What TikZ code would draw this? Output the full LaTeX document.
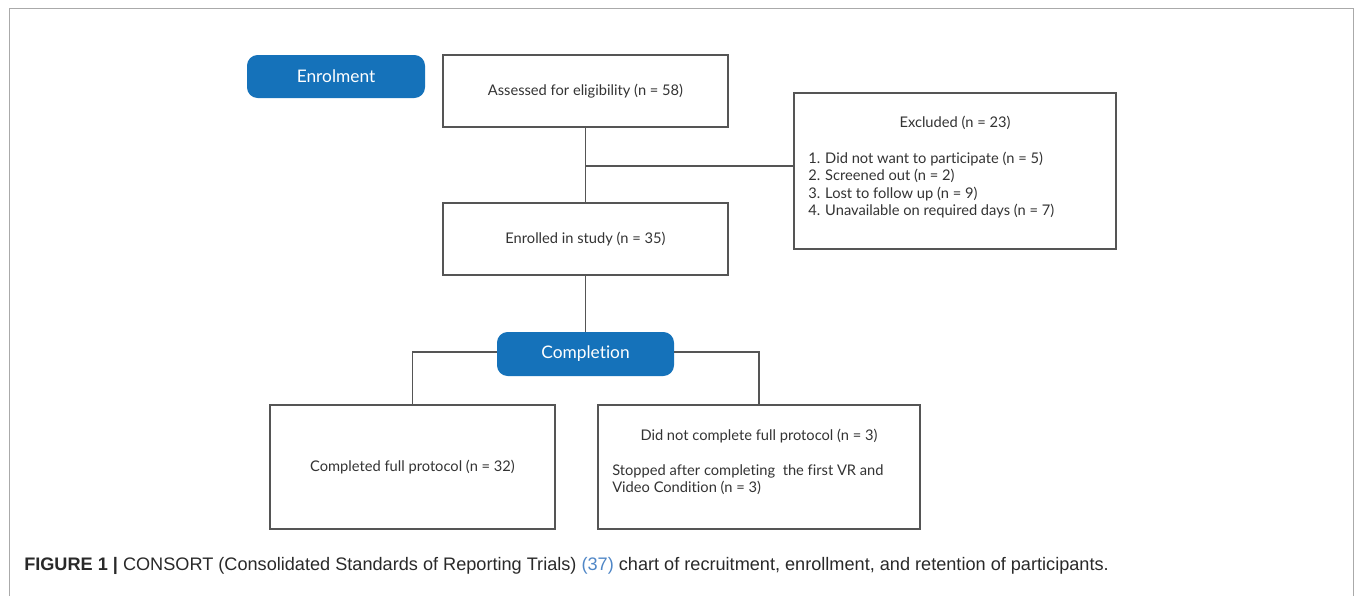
\documentclass[tikz,border=0pt]{standalone}
\usepackage{fontspec}
\setmainfont{Lato}[Ligatures=NoCommon]
\newfontfamily\capfont{Liberation Sans}
\usetikzlibrary{positioning,calc}
\definecolor{stageblue}{HTML}{1572BA}
\definecolor{boxline}{HTML}{555555}
\definecolor{framegray}{HTML}{AAAAAA}
\definecolor{txtgray}{HTML}{333333}
\definecolor{citeblue}{HTML}{4F86C6}
\tikzset{
  stage/.style={shape=rectangle, rounded corners=8pt, fill=stageblue, text=white, font=\fontsize{13}{15}\selectfont, inner sep=0pt},
  box/.style={shape=rectangle, draw=boxline, line width=0.8pt, text=txtgray, font=\fontsize{11}{13}\selectfont, inner sep=0pt},
  txt/.style={text=txtgray, font=\fontsize{11}{13}\selectfont, inner sep=0pt},
  link/.style={draw=boxline, line width=0.8pt},
}

\begin{document}
\begin{tikzpicture}[x=0.75pt,y=-0.75pt]
    \useasboundingbox (0,0) rectangle (1355,596);
    % outer frame
    \draw[framegray, line width=0.9pt] (9.5,596) -- (9.5,8.5) -- (1353.5,8.5) -- (1353.5,596);

    % create the nodes
    \node (enrol)[stage, minimum width=133.5pt, minimum height=32.25pt] at (336,76.5) {Enrolment};
    \node (assess)[box, minimum width=213.75pt, minimum height=54pt] at (585.5,91) {Assessed for eligibility (n = 58)};
    \node (excl)[box, minimum width=241.5pt, minimum height=117pt] at (955,171) {};
    \node (excltitle)[txt] at (955,123) {Excluded (n = 23)};
    \node (excllist)[txt, anchor=north west, align=left] at (808,152) {1. Did not want to participate (n = 5)\\2. Screened out (n = 2)\\3. Lost to follow up (n = 9)\\4. Unavailable on required days (n = 7)};
    \node (enrolled)[box, minimum width=213.75pt, minimum height=54pt] at (585.5,239) {Enrolled in study (n = 35)};
    \node (compl)[stage, minimum width=132.75pt, minimum height=33pt] at (585.5,354) {Completion};
    \node (full)[box, minimum width=213.75pt, minimum height=93pt] at (412.5,467) {Completed full protocol (n = 32)};
    \node (notfull)[box, minimum width=241.5pt, minimum height=93pt] at (759,467) {};
    \node (notfulltitle)[txt] at (759,436) {Did not complete full protocol (n = 3)};
    \node (notfulltext)[txt, anchor=north west, align=left] at (612,464) {Stopped after completing\ \ the first VR and\\Video Condition (n = 3)};

    % connect the nodes
    \draw[link] (assess) -- (enrolled);
    \draw[link] (excl.west |- 0,166) -- (585.5,166);
    \draw[link] (enrolled) -- (compl);
    \draw[link] (compl.west |- 0,352) -| (full.north);
    \draw[link] (compl.east |- 0,352) -| (notfull.north);

    % caption
    \node (caption)[anchor=base west, inner sep=0pt, font=\capfont\fontsize{13.6}{15}\selectfont, text=txtgray!80!black] at (24,570)
      {\textbf{FIGURE 1 |} CONSORT (Consolidated Standards of Reporting Trials) {\color{citeblue}(37)} chart of recruitment, enrollment, and retention of participants.};
\end{tikzpicture}
\end{document}
